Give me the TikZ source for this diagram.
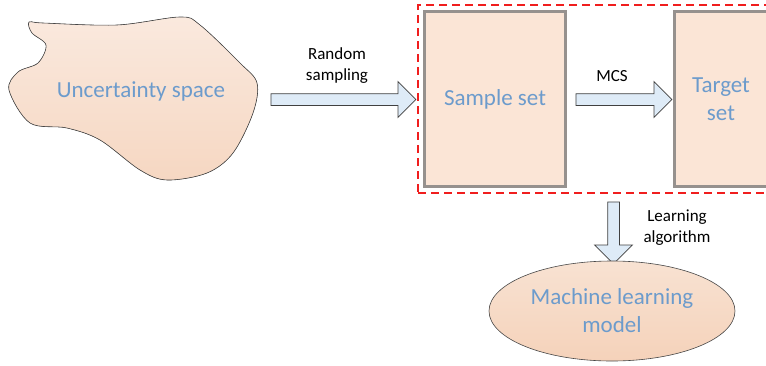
\documentclass[tikz,border=0pt]{standalone}
\usepackage{fontspec}
\setmainfont{Carlito}
\usetikzlibrary{shapes.geometric,shapes.arrows,fit}

\definecolor{peach}{RGB}{251,229,214}
\definecolor{boxgray}{RGB}{150,145,142}
\definecolor{txtblue}{RGB}{108,155,204}
\definecolor{arrowblue}{RGB}{222,235,247}
\definecolor{dashred}{RGB}{240,30,30}

\tikzset{
  bigtext/.style={font=\fontsize{23}{28}\selectfont, text=txtblue, align=center},
  smalltext/.style={font=\fontsize{17}{21}\selectfont, text=black, align=center},
  setbox/.style={draw=boxgray, line width=3pt, fill=peach, bigtext},
  blockarrow/.style={single arrow, draw={rgb,255:red,64;green,64;blue,64}, line width=0.75pt,
    fill=arrowblue, inner sep=5.5pt, single arrow head extend=12pt,
    single arrow tip angle=90, single arrow head indent=0pt},
  dashbox/.style={draw=dashred, line width=1.5pt, dash pattern=on 8pt off 5pt}
}

\begin{document}
\begin{tikzpicture}[x=1pt,y=-1pt]

\useasboundingbox (0,0) rectangle (766,365);
\clip (0,0) rectangle (766,365);

%Drawing uncertainty space
\filldraw[draw={rgb,255:red,70;green,70;blue,70}, line width=0.6pt,
  top color={rgb,255:red,250;green,233;blue,222}, bottom color={rgb,255:red,246;green,215;blue,194}]
  plot[smooth cycle, tension=0.55] coordinates {(29,22) (43,23) (117,25) (180,17) (200,25)
  (240,63) (257,83) (253,113) (233,153) (207,173) (167,180) (140,170) (100,140)
  (67,128) (30,123) (9,90) (18,72) (38,63) (46,45) (32,33)};
\node[bigtext] (uspace) at (141,91) {Uncertainty space};

%Drawing sets
\node[setbox, minimum width=141, minimum height=175] (sample) at (495,99) {Sample set};
\node[setbox, minimum width=93, minimum height=175] (target) at (721,99) {Target\\set};
\node[dashbox, fit=(sample)(target), inner sep=5pt] (group) {};

%Drawing block arrows
\node[blockarrow, minimum height=145] (rs) at (340.5,99.5) {};
\node[smalltext] (rslabel) at (337,66) {Random\\sampling};
\node[blockarrow, minimum height=96] (mcs) at (621,99.5) {};
\node[smalltext] (mcslabel) at (612,76) {MCS};
\node[blockarrow, minimum height=62, single arrow head extend=13pt, rotate=-90] (la) at (613.5,230) {};
\node[smalltext] (lalabel) at (677,228) {Learning\\algorithm};

%Drawing model
\node[ellipse, draw={rgb,255:red,70;green,70;blue,70}, line width=0.6pt, inner sep=0pt,
  top color={rgb,255:red,248;green,226;blue,210}, bottom color={rgb,255:red,245;green,210;blue,186},
  minimum width=246, minimum height=100, bigtext] (ml) at (612,311) {Machine learning\\model};

\end{tikzpicture}
\end{document}
